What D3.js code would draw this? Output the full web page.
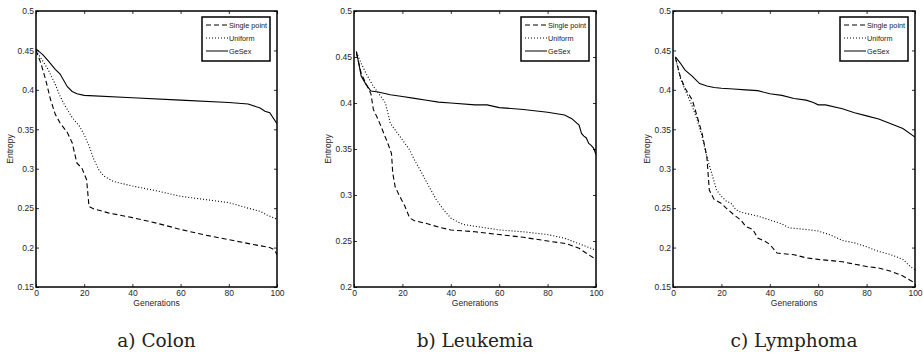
<!DOCTYPE html>
<html>
<head>
<meta charset="utf-8">
<script src="https://cdn.jsdelivr.net/npm/d3@7"></script>
<style>
  body { margin: 0; background: #fff; }
  .tick text { font-family: "Liberation Sans", Arial, sans-serif; font-size: 8.5px; fill: #262626; }
  .lbl { font-family: "Liberation Sans", Arial, sans-serif; font-size: 8.5px; fill: #262626; }
  .leg { font-family: "Liberation Sans", Arial, sans-serif; font-size: 7.3px; fill: #1a1a1a; }
  .cap { font-family: "DejaVu Serif", serif; font-size: 18.5px; fill: #222; }
</style>
</head>
<body>
<svg id="fig" width="923" height="362"></svg>
<script>
// series data: [generation, entropy]
const colonSingle = [[0,0.45],[2,0.434],[4,0.413],[6,0.388],[8,0.369],[10,0.358],[13,0.346],[15,0.333],[17,0.307],[19,0.301],[21,0.286],[22,0.252],[24,0.249],[30,0.244],[40,0.238],[50,0.231],[60,0.223],[70,0.216],[80,0.21],[90,0.204],[97,0.2],[99,0.197],[100,0.191]]
const colonUniform = [[0,0.45],[5,0.426],[8,0.407],[10,0.392],[12,0.38],[15,0.365],[18,0.354],[20,0.343],[22,0.329],[24,0.312],[26,0.299],[28,0.291],[32,0.284],[40,0.278],[50,0.272],[60,0.265],[70,0.261],[80,0.257],[88,0.25],[93,0.246],[96,0.241],[100,0.236]]
const colonGeSex = [[0,0.452],[3,0.444],[5,0.437],[8,0.426],[10,0.42],[13,0.404],[15,0.398],[17,0.395],[20,0.393],[40,0.39],[60,0.387],[80,0.384],[88,0.382],[93,0.377],[95,0.373],[97,0.371],[100,0.357]]

const leukSingle = [[1,0.454],[3,0.432],[5,0.421],[7,0.41],[8,0.393],[10,0.382],[12,0.369],[14,0.356],[15.5,0.345],[16,0.324],[17,0.309],[19,0.298],[21,0.288],[23,0.275],[25,0.272],[30,0.269],[35,0.265],[40,0.262],[50,0.26],[60,0.257],[70,0.254],[80,0.25],[88,0.247],[93,0.242],[97,0.235],[100,0.23]]
const leukUniform = [[1,0.455],[3,0.443],[5,0.432],[8,0.418],[10,0.411],[13,0.4],[15,0.378],[18,0.367],[20,0.36],[23,0.349],[25,0.338],[28,0.324],[31,0.309],[34,0.295],[37,0.284],[40,0.275],[42,0.272],[45,0.268],[50,0.266],[60,0.262],[70,0.26],[80,0.257],[87,0.253],[92,0.248],[96,0.244],[100,0.24]]
const leukGeSex = [[1,0.456],[3,0.429],[5,0.42],[7,0.413],[10,0.412],[15,0.409],[20,0.407],[25,0.405],[30,0.403],[35,0.401],[40,0.4],[50,0.398],[55,0.398],[60,0.395],[70,0.393],[80,0.39],[87,0.387],[90,0.383],[93,0.376],[94,0.367],[95,0.364],[96,0.362],[97,0.356],[98,0.354],[99,0.351],[100,0.344]]

const lymphSingle = [[1,0.441],[3,0.417],[5,0.402],[8,0.387],[10,0.366],[12,0.345],[14,0.315],[15,0.273],[17,0.261],[20,0.256],[22,0.25],[25,0.242],[28,0.235],[30,0.227],[33,0.223],[35,0.212],[38,0.208],[40,0.204],[43,0.193],[50,0.191],[55,0.187],[60,0.185],[70,0.182],[80,0.176],[85,0.174],[90,0.17],[95,0.164],[100,0.155]]
const lymphUniform = [[1,0.441],[3,0.415],[5,0.4],[8,0.379],[10,0.362],[12,0.341],[14,0.315],[16,0.294],[18,0.273],[20,0.265],[22,0.259],[24,0.256],[26,0.248],[28,0.245],[32,0.242],[35,0.24],[40,0.235],[45,0.23],[48,0.225],[55,0.223],[60,0.221],[65,0.216],[70,0.209],[75,0.206],[80,0.201],[85,0.195],[90,0.191],[95,0.185],[98,0.176],[100,0.172]]
const lymphGeSex = [[1,0.442],[3,0.434],[5,0.425],[8,0.417],[11,0.408],[14,0.405],[17,0.403],[20,0.402],[25,0.401],[30,0.4],[35,0.399],[40,0.395],[45,0.393],[50,0.389],[55,0.387],[58,0.384],[60,0.381],[63,0.381],[70,0.376],[75,0.371],[80,0.367],[85,0.363],[90,0.357],[95,0.351],[100,0.34]]

const xTicks = [0, 20, 40, 60, 80, 100]
const yTicks015 = [0.15, 0.2, 0.25, 0.3, 0.35, 0.4, 0.45, 0.5]
const yTicks02 = [0.2, 0.25, 0.3, 0.35, 0.4, 0.45, 0.5]
const seriesNames = ['Single point', 'Uniform', 'GeSex']
const captions = ['a) Colon', 'b) Leukemia', 'c) Lymphoma']

const dashes = ['5,3', '1,2', null]

const panels = [
  { left: 36, right: 277, ymin: 0.15, yticks: yTicks015, series: [colonSingle, colonUniform, colonGeSex] },
  { left: 354, right: 596, ymin: 0.2, yticks: yTicks02, series: [leukSingle, leukUniform, leukGeSex] },
  { left: 673, right: 915, ymin: 0.15, yticks: yTicks015, series: [lymphSingle, lymphUniform, lymphGeSex] }
]
const plotTop = 11, plotBottom = 287

const svg = d3.select('#fig')

panels.forEach((p, i) => {
  const w = p.right - p.left, h = plotBottom - plotTop
  const g = svg.append('g').attr('transform', `translate(${p.left},${plotTop})`)

  const x = d3.scaleLinear().domain([0, 100]).range([0, w])
  const y = d3.scaleLinear().domain([p.ymin, 0.5]).range([h, 0])

  g.append('clipPath').attr('id', 'clip' + i)
    .append('rect').attr('width', w).attr('height', h)

  // axes with inward ticks
  const fmt = d => String(d)
  g.append('g').attr('transform', `translate(0,${h})`)
    .call(d3.axisBottom(x).tickValues(xTicks).tickSizeInner(-3).tickSizeOuter(0).tickPadding(3).tickFormat(fmt))
  g.append('g')
    .call(d3.axisLeft(y).tickValues(p.yticks).tickSizeInner(-3).tickSizeOuter(0).tickPadding(2).tickFormat(fmt))
  g.append('g')
    .call(d3.axisTop(x).tickValues(xTicks).tickSizeInner(-3).tickSizeOuter(0).tickFormat(''))
  g.append('g').attr('transform', `translate(${w},0)`)
    .call(d3.axisRight(y).tickValues(p.yticks).tickSizeInner(-3).tickSizeOuter(0).tickFormat(''))
  g.selectAll('.domain').remove()
  g.selectAll('.tick line').attr('stroke', '#000').attr('stroke-width', 0.8)
  g.selectAll('.tick text').attr('font-size', null).attr('font-family', null).attr('fill', null)

  g.append('rect').attr('width', w).attr('height', h)
    .attr('fill', 'none').attr('stroke', '#000').attr('stroke-width', 1.5)

  const line = d3.line().x(d => x(d[0])).y(d => y(d[1]))
  p.series.forEach((s, k) => {
    g.append('path').datum(s)
      .attr('clip-path', `url(#clip${i})`)
      .attr('d', line)
      .attr('fill', 'none')
      .attr('stroke', '#000')
      .attr('stroke-width', 1.1)
      .attr('stroke-dasharray', dashes[k])
  })

  // legend
  const lg = g.append('g').attr('transform', `translate(${w - 75},6)`)
  lg.append('rect').attr('width', 68).attr('height', 44)
    .attr('fill', '#fff').attr('stroke', '#000').attr('stroke-width', 1.5)
  seriesNames.forEach((n, k) => {
    const yy = 8 + k * 13
    lg.append('line').attr('x1', 4).attr('x2', 26).attr('y1', yy).attr('y2', yy)
      .attr('stroke', '#000').attr('stroke-width', 1).attr('stroke-dasharray', dashes[k])
    lg.append('text').attr('class', 'leg').attr('x', 27).attr('y', yy + 3).text(n)
  })

  g.append('text').attr('class', 'lbl')
    .attr('x', w / 2).attr('y', h + 19).attr('text-anchor', 'middle').text('Generations')
  g.append('text').attr('class', 'lbl')
    .attr('transform', `translate(-23,${h / 2}) rotate(-90)`)
    .attr('text-anchor', 'middle').text('Entropy')

  svg.append('text').attr('class', 'cap')
    .attr('x', p.left + w / 2).attr('y', 347).attr('text-anchor', 'middle').text(captions[i])
})
</script>
</body>
</html>
